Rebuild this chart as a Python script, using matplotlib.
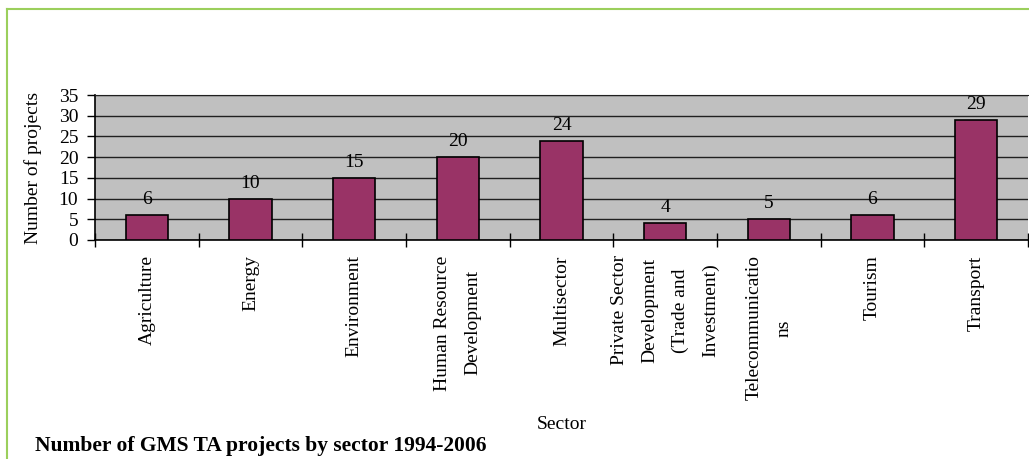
import numpy as np
import matplotlib.pyplot as plt
from matplotlib.lines import Line2D

sectors = ["Agriculture", "Energy", "Environment", "Human Resource\nDevelopment",
           "Multisector", "Private Sector\nDevelopment\n(Trade and\nInvestment)",
           "Telecommunicatio\nns", "Tourism", "Transport"]
projects = [6, 10, 15, 20, 24, 4, 5, 6, 29]

plt.rcParams['font.family'] = ['Liberation Serif', 'DejaVu Serif']
fs = 14

fig = plt.figure(figsize=(10.29, 4.59), dpi=100)
W, H = 1029, 459
ax = fig.add_axes([95 / W, 1 - 240 / H, 933 / W, 145 / H])

x = np.arange(len(sectors))
bars = ax.bar(x, projects, width=0.41, color='#993366', edgecolor='black',
              linewidth=1.2, zorder=3)
for xi, v in zip(x, projects):
    ax.annotate(str(v), (xi, v), xytext=(0, 5), textcoords='offset points',
                ha='center', va='bottom', fontsize=fs)

ax.set_facecolor('#c0c0c0')
ax.set_xlim(-0.5, len(sectors) - 0.5)
ax.set_ylim(0, 35)
ax.set_yticks(range(0, 36, 5))
ax.yaxis.grid(True, color='#202020', linewidth=1.0, zorder=1)
ax.set_axisbelow(True)
ax.tick_params(axis='y', direction='out', length=6, width=1, pad=6, labelsize=fs)

ax.set_xticks(x)
ax.set_xticklabels(sectors, rotation=90, ha='center', va='top',
                   multialignment='center', fontsize=fs)
for t in ax.get_xticklabels():
    t.set_linespacing(2.0)
ax.tick_params(axis='x', which='major', length=0, pad=11)
ax.set_xticks(np.arange(-0.5, len(sectors), 1), minor=True)
ax.tick_params(axis='x', which='minor', direction='inout', length=10, width=1)

ax.spines['right'].set_visible(False)
ax.spines['top'].set_color('#202020')
ax.spines['left'].set_linewidth(1.2)
ax.spines['bottom'].set_linewidth(1.2)

ax.set_ylabel("Number of projects", fontsize=fs)
ax.yaxis.set_label_coords(-53 / 933, 0.5)
ax.set_xlabel("Sector", fontsize=fs)
ax.xaxis.set_label_coords(0.5, -176 / 145)

fig.text(35 / W, 1 - 446 / H, "Number of GMS TA projects by sector 1994-2006",
         fontsize=15.5, fontweight='bold', ha='left', va='center')

green = '#9bcf5c'
fig.add_artist(Line2D([7 / W, 1], [1 - 9 / H, 1 - 9 / H], color=green, lw=1.5))
fig.add_artist(Line2D([7 / W, 7 / W], [1 - 9 / H, 0], color=green, lw=1.5))

fig.savefig('out.png', dpi=100)
